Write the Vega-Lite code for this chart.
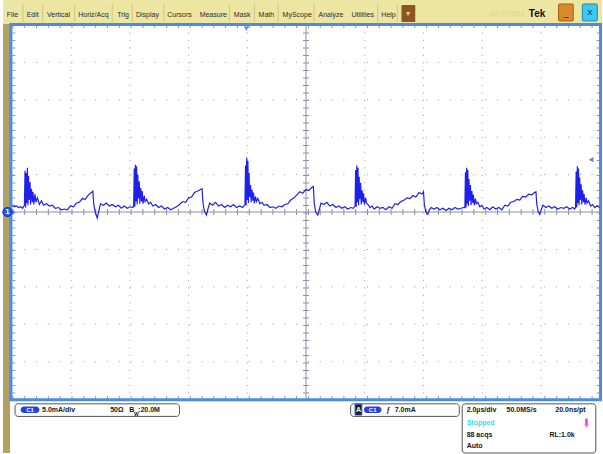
{
"$schema": "https://vega.github.io/schema/vega-lite/v6.json",
"width": 603, "height": 454,
"autosize": {"type": "fit", "contains": "padding"},
"padding": 0,
"background": "white",
"config": {"view": {"stroke": null}, "axis": {"disable": true}, "font": "Liberation Sans", "text": {"font": "Liberation Sans"}},
"data": {"values": [{"k": 1}]},
"datasets": {
"wave": [
{"t":-10.00,"v":0.9},{"t":-9.93,"v":0.7},{"t":-9.86,"v":0.8},{"t":-9.79,"v":0.6},{"t":-9.72,"v":0.7},{"t":-9.65,"v":0.5},{"t":-9.61,"v":0.8},
{"t":-9.59,"v":0.9},{"t":-9.57,"v":5.5},{"t":-9.55,"v":0.6},{"t":-9.53,"v":5.2},{"t":-9.51,"v":1.2},{"t":-9.49,"v":5.9},{"t":-9.47,"v":0.9},{"t":-9.45,"v":4.8},{"t":-9.43,"v":1.6},{"t":-9.40,"v":4.0},{"t":-9.38,"v":1.0},{"t":-9.35,"v":3.1},{"t":-9.32,"v":1.3},{"t":-9.30,"v":2.7},{"t":-9.27,"v":1.0},{"t":-9.23,"v":2.4},{"t":-9.20,"v":1.3},{"t":-9.15,"v":1.9},{"t":-9.08,"v":1.0},{"t":-9.01,"v":1.5},{"t":-8.94,"v":0.9},{"t":-8.84,"v":1.1},{"t":-8.74,"v":0.8},{"t":-8.64,"v":0.9},{"t":-8.54,"v":0.5},{"t":-8.43,"v":0.6},{"t":-8.33,"v":0.3},{"t":-8.23,"v":0.4},{"t":-8.13,"v":0.3},{"t":-8.03,"v":0.8},{"t":-7.92,"v":0.7},{"t":-7.82,"v":1.2},{"t":-7.72,"v":1.3},{"t":-7.62,"v":1.8},{"t":-7.52,"v":1.7},{"t":-7.41,"v":2.3},{"t":-7.31,"v":2.6},{"t":-7.26,"v":2.8},{"t":-7.23,"v":1.1},{"t":-7.18,"v":0.0},{"t":-7.11,"v":-0.8},{"t":-7.06,"v":0.1},{"t":-7.00,"v":1.1},{"t":-6.90,"v":0.9},{"t":-6.80,"v":1.2},{"t":-6.70,"v":0.8},{"t":-6.60,"v":1.0},{"t":-6.49,"v":0.7},{"t":-6.39,"v":0.9},{"t":-6.29,"v":0.5},{"t":-6.19,"v":0.8},{"t":-6.09,"v":0.5},{"t":-5.98,"v":0.7},{"t":-5.90,"v":0.6},
{"t":-5.87,"v":0.8},{"t":-5.85,"v":5.8},{"t":-5.83,"v":0.7},{"t":-5.81,"v":6.3},{"t":-5.79,"v":1.4},{"t":-5.77,"v":6.1},{"t":-5.75,"v":1.0},{"t":-5.73,"v":5.0},{"t":-5.71,"v":1.8},{"t":-5.68,"v":4.1},{"t":-5.66,"v":1.1},{"t":-5.63,"v":3.2},{"t":-5.60,"v":1.4},{"t":-5.58,"v":2.8},{"t":-5.55,"v":1.1},{"t":-5.51,"v":2.2},{"t":-5.48,"v":1.4},{"t":-5.43,"v":1.7},{"t":-5.36,"v":1.1},{"t":-5.29,"v":1.3},{"t":-5.22,"v":0.8},{"t":-5.12,"v":1.0},{"t":-5.02,"v":0.6},{"t":-4.92,"v":0.8},{"t":-4.82,"v":0.4},{"t":-4.71,"v":0.6},{"t":-4.61,"v":0.3},{"t":-4.51,"v":0.5},{"t":-4.41,"v":0.7},{"t":-4.31,"v":1.0},{"t":-4.20,"v":1.4},{"t":-4.10,"v":1.3},{"t":-4.00,"v":1.9},{"t":-3.90,"v":2.0},{"t":-3.80,"v":2.6},{"t":-3.69,"v":2.8},{"t":-3.59,"v":3.0},{"t":-3.54,"v":3.1},{"t":-3.51,"v":1.2},{"t":-3.46,"v":0.1},{"t":-3.39,"v":-0.4},{"t":-3.34,"v":0.4},{"t":-3.28,"v":1.2},{"t":-3.18,"v":0.9},{"t":-3.08,"v":1.3},{"t":-2.98,"v":0.8},{"t":-2.88,"v":1.0},{"t":-2.77,"v":0.6},{"t":-2.67,"v":0.9},{"t":-2.57,"v":0.7},{"t":-2.47,"v":1.0},{"t":-2.37,"v":0.6},{"t":-2.26,"v":0.8},{"t":-2.16,"v":0.6},{"t":-2.10,"v":0.9},
{"t":-2.08,"v":1.0},{"t":-2.06,"v":6.2},{"t":-2.04,"v":0.9},{"t":-2.02,"v":7.3},{"t":-2.00,"v":1.6},{"t":-1.98,"v":6.8},{"t":-1.96,"v":1.2},{"t":-1.94,"v":5.2},{"t":-1.92,"v":2.0},{"t":-1.89,"v":3.6},{"t":-1.87,"v":1.3},{"t":-1.84,"v":3.0},{"t":-1.81,"v":1.5},{"t":-1.79,"v":2.6},{"t":-1.76,"v":1.2},{"t":-1.72,"v":2.1},{"t":-1.69,"v":1.4},{"t":-1.64,"v":1.8},{"t":-1.57,"v":1.1},{"t":-1.50,"v":1.3},{"t":-1.43,"v":0.9},{"t":-1.33,"v":1.0},{"t":-1.23,"v":0.6},{"t":-1.13,"v":0.7},{"t":-1.03,"v":0.5},{"t":-0.92,"v":0.8},{"t":-0.82,"v":0.7},{"t":-0.72,"v":1.0},{"t":-0.62,"v":1.1},{"t":-0.52,"v":1.6},{"t":-0.41,"v":1.9},{"t":-0.31,"v":2.3},{"t":-0.21,"v":2.7},{"t":-0.11,"v":2.5},{"t":-0.01,"v":3.0},{"t":0.10,"v":2.9},{"t":0.20,"v":3.3},{"t":0.25,"v":3.4},{"t":0.28,"v":1.2},{"t":0.33,"v":0.0},{"t":0.40,"v":-0.4},{"t":0.45,"v":0.3},{"t":0.51,"v":1.2},{"t":0.61,"v":1.0},{"t":0.71,"v":1.3},{"t":0.81,"v":0.8},{"t":0.91,"v":1.0},{"t":1.02,"v":0.6},{"t":1.12,"v":0.8},{"t":1.22,"v":0.5},{"t":1.32,"v":0.7},{"t":1.42,"v":0.4},{"t":1.53,"v":0.6},{"t":1.61,"v":0.5},
{"t":1.67,"v":0.8},{"t":1.69,"v":5.6},{"t":1.71,"v":0.7},{"t":1.73,"v":6.2},{"t":1.75,"v":1.3},{"t":1.77,"v":5.9},{"t":1.79,"v":0.9},{"t":1.81,"v":4.7},{"t":1.83,"v":1.7},{"t":1.86,"v":3.9},{"t":1.88,"v":1.0},{"t":1.91,"v":2.9},{"t":1.94,"v":1.3},{"t":1.96,"v":2.5},{"t":1.99,"v":1.0},{"t":2.03,"v":1.9},{"t":2.06,"v":1.2},{"t":2.11,"v":1.0},{"t":2.18,"v":0.6},{"t":2.25,"v":0.8},{"t":2.32,"v":0.4},{"t":2.42,"v":0.7},{"t":2.52,"v":0.5},{"t":2.62,"v":0.6},{"t":2.72,"v":0.3},{"t":2.83,"v":0.7},{"t":2.93,"v":0.5},{"t":3.03,"v":1.1},{"t":3.13,"v":1.0},{"t":3.23,"v":1.4},{"t":3.34,"v":1.6},{"t":3.44,"v":1.9},{"t":3.54,"v":1.8},{"t":3.64,"v":2.2},{"t":3.74,"v":2.0},{"t":3.85,"v":2.6},{"t":3.95,"v":2.4},{"t":4.00,"v":2.7},{"t":4.03,"v":1.0},{"t":4.08,"v":0.0},{"t":4.15,"v":-0.3},{"t":4.20,"v":0.3},{"t":4.26,"v":0.6},{"t":4.36,"v":0.4},{"t":4.46,"v":0.6},{"t":4.56,"v":0.3},{"t":4.66,"v":0.5},{"t":4.77,"v":0.2},{"t":4.87,"v":0.5},{"t":4.97,"v":0.3},{"t":5.07,"v":0.6},{"t":5.17,"v":0.4},{"t":5.28,"v":0.5},{"t":5.36,"v":0.6},
{"t":5.41,"v":0.6},{"t":5.43,"v":5.3},{"t":5.45,"v":0.6},{"t":5.47,"v":5.9},{"t":5.49,"v":1.1},{"t":5.51,"v":5.6},{"t":5.53,"v":0.8},{"t":5.55,"v":4.4},{"t":5.57,"v":1.5},{"t":5.60,"v":3.6},{"t":5.62,"v":0.9},{"t":5.65,"v":2.8},{"t":5.68,"v":1.2},{"t":5.70,"v":2.3},{"t":5.73,"v":0.9},{"t":5.77,"v":1.8},{"t":5.80,"v":1.1},{"t":5.85,"v":1.3},{"t":5.92,"v":0.7},{"t":5.99,"v":0.9},{"t":6.06,"v":0.4},{"t":6.16,"v":0.6},{"t":6.26,"v":0.3},{"t":6.36,"v":0.7},{"t":6.46,"v":0.4},{"t":6.57,"v":0.6},{"t":6.67,"v":0.3},{"t":6.77,"v":0.9},{"t":6.87,"v":0.8},{"t":6.97,"v":1.3},{"t":7.08,"v":1.4},{"t":7.18,"v":1.7},{"t":7.28,"v":1.6},{"t":7.38,"v":2.1},{"t":7.48,"v":2.0},{"t":7.59,"v":2.4},{"t":7.69,"v":2.3},{"t":7.78,"v":2.6},{"t":7.83,"v":2.7},{"t":7.86,"v":1.0},{"t":7.91,"v":0.0},{"t":7.96,"v":-0.3},{"t":8.01,"v":0.3},{"t":8.07,"v":0.9},{"t":8.17,"v":0.6},{"t":8.27,"v":0.8},{"t":8.37,"v":0.5},{"t":8.47,"v":0.7},{"t":8.57,"v":0.4},{"t":8.68,"v":0.6},{"t":8.78,"v":0.5},{"t":8.88,"v":0.7},{"t":8.98,"v":0.4},{"t":9.08,"v":0.6},{"t":9.15,"v":0.4},
{"t":9.18,"v":0.7},{"t":9.20,"v":5.4},{"t":9.22,"v":0.6},{"t":9.24,"v":6.1},{"t":9.26,"v":1.2},{"t":9.28,"v":5.8},{"t":9.30,"v":0.9},{"t":9.32,"v":4.6},{"t":9.34,"v":1.6},{"t":9.37,"v":3.7},{"t":9.39,"v":1.0},{"t":9.42,"v":2.9},{"t":9.45,"v":1.3},{"t":9.47,"v":2.4},{"t":9.50,"v":1.0},{"t":9.54,"v":1.9},{"t":9.57,"v":1.2},{"t":9.62,"v":1.5},{"t":9.69,"v":0.8},{"t":9.76,"v":1.0},{"t":9.83,"v":0.6},{"t":9.90,"v":0.8},{"t":9.96,"v":0.7},{"t":10.0,"v":0.6}
],
"menu": [
{"label":"File","t":-10.0},{"label":"Edit","t":-9.31},{"label":"Vertical","t":-8.43},{"label":"Horiz/Acq","t":-7.24},{"label":"Trig","t":-6.23},{"label":"Display","t":-5.40},{"label":"Cursors","t":-4.31},{"label":"Measure","t":-3.16},{"label":"Mask","t":-2.18},{"label":"Math","t":-1.35},{"label":"MyScope","t":-0.30},{"label":"Analyze","t":0.85},{"label":"Utilities","t":1.93},{"label":"Help","t":2.81}
],
"seps": [{"t":-9.64},{"t":-8.97},{"t":-7.88},{"t":-6.60},{"t":-5.92},{"t":-4.84},{"t":-2.61},{"t":-1.76},{"t":-0.95},{"t":0.27},{"t":2.44},{"t":3.11}],
"vgrid": [{"g":-8},{"g":-6},{"g":-4},{"g":-2},{"g":2},{"g":4},{"g":6},{"g":8}],
"hgrid": [{"g":-20},{"g":-15},{"g":-10},{"g":-5},{"g":5},{"g":10},{"g":15},{"g":20}],
"hborder": [{"g":24.8},{"g":-24.8}],
"vborder": [{"g":-9.95},{"g":9.95}],
"badges": [{"a":-9.72,"b":-9.08,"c":-9.40},{"a":1.97,"b":2.57,"c":2.27}],
"status": [
{"label":"5.0mA/div","t":-8.99,"v":-26.43},{"label":"50Ω","t":-6.67,"v":-26.43},{"label":"B","t":-6.02,"v":-26.43},{"label":":20.0M","t":-5.72,"v":-26.43},
{"label":"ƒ","t":2.73,"v":-26.43},{"label":"7.0mA","t":3.02,"v":-26.43},
{"label":"2.0µs/div","t":5.47,"v":-26.43},{"label":"50.0MS/s","t":6.83,"v":-26.43},{"label":"20.0ns/pt","t":8.49,"v":-26.43},
{"label":"88 acqs","t":5.47,"v":-29.8},{"label":"RL:1.0k","t":8.29,"v":-29.8},{"label":"Auto","t":5.47,"v":-31.3}
]
},
"layer": [
{"mark": {"type": "rect", "color": "#ede6a2"},
 "encoding": {"x": {"datum": -10.32, "type": "quantitative", "scale": {"domain": [-10.32, 10.08], "nice": false, "zero": false}, "axis": null},
  "x2": {"datum": 10.08}, "y": {"datum": 25.13, "type": "quantitative", "scale": {"domain": [-32.2, 28.33], "nice": false, "zero": false}, "axis": null}, "y2": {"datum": 28.33}}},
{"mark": {"type": "rect", "color": "#b3a163"},
 "encoding": {"x": {"datum": -10.32, "type": "quantitative"}, "x2": {"datum": -10.08}, "y": {"datum": -32.2, "type": "quantitative"}, "y2": {"datum": 25.13}}},
{"data": {"name": "seps"}, "mark": {"type": "rule", "color": "#cfc589", "strokeWidth": 1},
 "encoding": {"x": {"field": "t", "type": "quantitative"}, "y": {"datum": 25.4, "type": "quantitative"}, "y2": {"datum": 27.8}}},
{"data": {"name": "menu"}, "mark": {"type": "text", "fontSize": 7, "color": "#2b2b2b", "align": "center", "baseline": "middle"},
 "encoding": {"x": {"field": "t", "type": "quantitative"}, "y": {"datum": 26.33, "type": "quantitative"}, "text": {"field": "label"}}},
{"mark": {"type": "rect", "color": "#8b5524", "cornerRadius": 1},
 "encoding": {"x": {"datum": 3.25, "type": "quantitative"}, "x2": {"datum": 3.72}, "y": {"datum": 25.4, "type": "quantitative"}, "y2": {"datum": 27.67}}},
{"mark": {"type": "text", "text": "▾", "fontSize": 8, "color": "#f4d86a", "align": "center", "baseline": "middle"},
 "encoding": {"x": {"datum": 3.485, "type": "quantitative"}, "y": {"datum": 26.5, "type": "quantitative"}}},
{"mark": {"type": "text", "text": "DPO7054", "fontSize": 8, "fontWeight": "bold", "color": "#e3d993", "align": "center", "baseline": "middle"},
 "encoding": {"x": {"datum": 6.84, "type": "quantitative"}, "y": {"datum": 26.4, "type": "quantitative"}}},
{"mark": {"type": "text", "text": "Tek", "fontSize": 10, "fontWeight": "bold", "color": "#111111", "align": "center", "baseline": "middle"},
 "encoding": {"x": {"datum": 7.87, "type": "quantitative"}, "y": {"datum": 26.5, "type": "quantitative"}}},
{"mark": {"type": "rect", "fill": "#d98a2c", "stroke": "#a35e14", "strokeWidth": 1, "cornerRadius": 1},
 "encoding": {"x": {"datum": 8.60, "type": "quantitative"}, "x2": {"datum": 9.10}, "y": {"datum": 25.53, "type": "quantitative"}, "y2": {"datum": 27.8}}},
{"mark": {"type": "text", "text": "_", "fontSize": 9, "color": "#222222", "align": "center", "baseline": "middle"},
 "encoding": {"x": {"datum": 8.85, "type": "quantitative"}, "y": {"datum": 26.6, "type": "quantitative"}}},
{"mark": {"type": "rect", "fill": "#3cc8ef", "stroke": "#1e88b8", "strokeWidth": 1, "cornerRadius": 1},
 "encoding": {"x": {"datum": 9.41, "type": "quantitative"}, "x2": {"datum": 9.92}, "y": {"datum": 25.53, "type": "quantitative"}, "y2": {"datum": 27.8}}},
{"mark": {"type": "text", "text": "X", "fontSize": 8, "color": "#1a1a1a", "align": "center", "baseline": "middle"},
 "encoding": {"x": {"datum": 9.665, "type": "quantitative"}, "y": {"datum": 26.6, "type": "quantitative"}}},
{"data": {"name": "vgrid"}, "mark": {"type": "rule", "color": "#9a9aa8", "strokeWidth": 1, "strokeDash": [1, 6.5]},
 "encoding": {"x": {"field": "g", "type": "quantitative"}, "y": {"datum": 25, "type": "quantitative"}, "y2": {"datum": -25}}},
{"data": {"name": "hgrid"}, "mark": {"type": "rule", "color": "#9a9aa8", "strokeWidth": 1, "strokeDash": [1, 10.82]},
 "encoding": {"y": {"field": "g", "type": "quantitative"}, "x": {"datum": -10, "type": "quantitative"}, "x2": {"datum": 10}}},
{"mark": {"type": "rule", "color": "#8b91a3", "strokeWidth": 1},
 "encoding": {"x": {"datum": 0, "type": "quantitative"}, "y": {"datum": 25, "type": "quantitative"}, "y2": {"datum": -25}}},
{"mark": {"type": "rule", "color": "#8b91a3", "strokeWidth": 1},
 "encoding": {"y": {"datum": 0, "type": "quantitative"}, "x": {"datum": -10, "type": "quantitative"}, "x2": {"datum": 10}}},
{"mark": {"type": "rule", "color": "#8b91a3", "strokeWidth": 6, "strokeDash": [1, 6.5]},
 "encoding": {"x": {"datum": 0, "type": "quantitative"}, "y": {"datum": 25, "type": "quantitative"}, "y2": {"datum": -25}}},
{"mark": {"type": "rule", "color": "#8b91a3", "strokeWidth": 6, "strokeDash": [1, 10.82]},
 "encoding": {"y": {"datum": 0, "type": "quantitative"}, "x": {"datum": -10, "type": "quantitative"}, "x2": {"datum": 10}}},
{"data": {"name": "hborder"}, "mark": {"type": "rule", "color": "#9096a8", "strokeWidth": 3, "strokeDash": [1, 10.82]},
 "encoding": {"y": {"field": "g", "type": "quantitative"}, "x": {"datum": -10, "type": "quantitative"}, "x2": {"datum": 10}}},
{"data": {"name": "vborder"}, "mark": {"type": "rule", "color": "#9096a8", "strokeWidth": 3, "strokeDash": [1, 6.5]},
 "encoding": {"x": {"field": "g", "type": "quantitative"}, "y": {"datum": 25, "type": "quantitative"}, "y2": {"datum": -25}}},
{"mark": {"type": "rect", "filled": false, "color": "#4d8ae3", "strokeWidth": 3},
 "encoding": {"x": {"datum": -10.05, "type": "quantitative"}, "x2": {"datum": 10.03}, "y": {"datum": -25.07, "type": "quantitative"}, "y2": {"datum": 25.07}}},
{"data": {"name": "wave"}, "mark": {"type": "line", "color": "#2020ee", "strokeWidth": 1.2},
 "encoding": {"x": {"field": "t", "type": "quantitative", "axis": null}, "y": {"field": "v", "type": "quantitative", "axis": null}, "order": {"field": "t"}}},
{"mark": {"type": "point", "shape": "triangle-right", "filled": true, "color": "#1b58e4", "size": 30},
 "encoding": {"x": {"datum": -9.98, "type": "quantitative"}, "y": {"datum": 0, "type": "quantitative"}}},
{"mark": {"type": "point", "shape": "circle", "filled": true, "fill": "#1b58e4", "stroke": "#0d3aa8", "strokeWidth": 1, "size": 85, "opacity": 1},
 "encoding": {"x": {"datum": -10.17, "type": "quantitative"}, "y": {"datum": 0, "type": "quantitative"}}},
{"mark": {"type": "text", "text": "1", "fontSize": 8, "fontWeight": "bold", "color": "white", "align": "center", "baseline": "middle"},
 "encoding": {"x": {"datum": -10.17, "type": "quantitative"}, "y": {"datum": 0, "type": "quantitative"}}},
{"mark": {"type": "point", "shape": "triangle-down", "filled": true, "color": "#1e5fe0", "size": 28},
 "encoding": {"x": {"datum": -2.03, "type": "quantitative"}, "y": {"datum": 24.5, "type": "quantitative"}}},
{"mark": {"type": "point", "shape": "triangle-left", "filled": true, "color": "#1a4fd8", "size": 28},
 "encoding": {"x": {"datum": 9.71, "type": "quantitative"}, "y": {"datum": 7.0, "type": "quantitative"}}},
{"mark": {"type": "rect", "fill": "white", "stroke": "#555555", "strokeWidth": 1, "cornerRadius": 3},
 "encoding": {"x": {"datum": -9.91, "type": "quantitative"}, "x2": {"datum": -4.31}, "y": {"datum": -27.31, "type": "quantitative"}, "y2": {"datum": -25.63}}},
{"mark": {"type": "rect", "fill": "white", "stroke": "#555555", "strokeWidth": 1, "cornerRadius": 3},
 "encoding": {"x": {"datum": 1.52, "type": "quantitative"}, "x2": {"datum": 5.22}, "y": {"datum": -27.31, "type": "quantitative"}, "y2": {"datum": -25.63}}},
{"mark": {"type": "rect", "fill": "white", "stroke": "#555555", "strokeWidth": 1, "cornerRadius": 3},
 "encoding": {"x": {"datum": 5.32, "type": "quantitative"}, "x2": {"datum": 9.87}, "y": {"datum": -32.2, "type": "quantitative"}, "y2": {"datum": -25.63}}},
{"data": {"name": "badges"}, "mark": {"type": "rect", "color": "#2441e8", "cornerRadius": 3.5},
 "encoding": {"x": {"field": "a", "type": "quantitative"}, "x2": {"field": "b"}, "y": {"datum": -26.87, "type": "quantitative"}, "y2": {"datum": -26.0}}},
{"data": {"name": "badges"}, "mark": {"type": "text", "text": "C1", "fontSize": 6, "fontWeight": "bold", "color": "white", "align": "center", "baseline": "middle"},
 "encoding": {"x": {"field": "c", "type": "quantitative"}, "y": {"datum": -26.43, "type": "quantitative"}}},
{"mark": {"type": "rect", "fill": "#1b1b1b", "stroke": "#2a5bd8", "strokeWidth": 1},
 "encoding": {"x": {"datum": 1.67, "type": "quantitative"}, "x2": {"datum": 1.90}, "y": {"datum": -27.13, "type": "quantitative"}, "y2": {"datum": -25.67}}},
{"mark": {"type": "text", "text": "A", "fontSize": 7, "fontWeight": "bold", "color": "white", "align": "center", "baseline": "middle"},
 "encoding": {"x": {"datum": 1.785, "type": "quantitative"}, "y": {"datum": -26.4, "type": "quantitative"}}},
{"data": {"name": "status"}, "mark": {"type": "text", "fontSize": 7, "fontWeight": "bold", "color": "#151515", "align": "left", "baseline": "middle"},
 "encoding": {"x": {"field": "t", "type": "quantitative"}, "y": {"field": "v", "type": "quantitative"}, "text": {"field": "label"}}},
{"mark": {"type": "text", "text": "W", "fontSize": 5, "fontWeight": "bold", "color": "#151515", "align": "left", "baseline": "middle"},
 "encoding": {"x": {"datum": -5.86, "type": "quantitative"}, "y": {"datum": -26.95, "type": "quantitative"}}},
{"mark": {"type": "text", "text": "Stopped", "fontSize": 7, "fontWeight": "bold", "color": "#2ee0f2", "align": "left", "baseline": "middle"},
 "encoding": {"x": {"datum": 5.47, "type": "quantitative"}, "y": {"datum": -28.2, "type": "quantitative"}}},
{"mark": {"type": "rule", "color": "#f03cc8", "strokeWidth": 2.5},
 "encoding": {"x": {"datum": 9.55, "type": "quantitative"}, "y": {"datum": -27.6, "type": "quantitative"}, "y2": {"datum": -28.4}}},
{"mark": {"type": "point", "shape": "triangle-down", "filled": true, "color": "#f03cc8", "size": 22},
 "encoding": {"x": {"datum": 9.55, "type": "quantitative"}, "y": {"datum": -28.6, "type": "quantitative"}}}
]
}
